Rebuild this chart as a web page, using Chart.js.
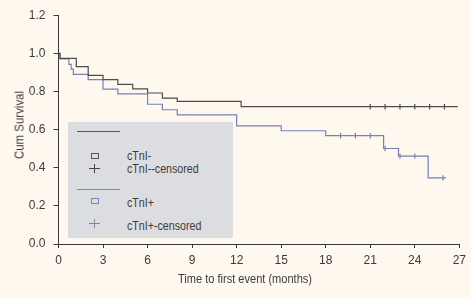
<!DOCTYPE html>
<html>
<head>
<meta charset="utf-8">
<script src="https://cdn.jsdelivr.net/npm/chart.js@4/dist/chart.umd.min.js"></script>
<style>
  html, body { margin: 0; padding: 0; background: #fef8ee; }
  #wrap { position: relative; width: 471px; height: 297px; overflow: hidden; }
  canvas { position: absolute; left: 0; top: 0; }
  .txt { position: absolute; font-family: "Liberation Sans", Arial, sans-serif; font-size: 13px; color: #3c3c3c; white-space: nowrap; line-height: 1; transform-origin: 0 50%; transform: scaleX(0.82); }
  .ctr { transform-origin: 50% 50%; }
  #legend { position: absolute; left: 68px; top: 122px; width: 165px; height: 116px; background: #dcdde0; }
  .lline { position: absolute; height: 1px; }
  .sq { position: absolute; width: 6px; height: 4px; border: 1px solid; }
  .ph { position: absolute; height: 1px; width: 11px; }
  .pv { position: absolute; width: 1px; height: 9px; }
</style>
</head>
<body>
<div id="wrap">
  <canvas id="c" width="471" height="297"></canvas>
  <div id="legend">
    <div class="lline" style="left:9px; top:9px; width:43px; background:#555;"></div>
    <div class="sq" style="left:23px; top:31px; border-color:#555;"></div>
    <div class="txt" style="left:59px; top:27px;">cTnI-</div>
    <div class="ph" style="left:21px; top:46px; background:#444;"></div>
    <div class="pv" style="left:26px; top:42px; background:#444;"></div>
    <div class="txt" style="left:59px; top:40px;">cTnI--censored</div>
    <div class="lline" style="left:9px; top:67px; width:43px; background:#7b86ba;"></div>
    <div class="sq" style="left:23px; top:76px; border-color:#7b86ba;"></div>
    <div class="txt" style="left:59px; top:74px;">cTnI+</div>
    <div class="ph" style="left:21px; top:101px; background:#7b86ba;"></div>
    <div class="pv" style="left:26px; top:97px; background:#7b86ba;"></div>
    <div class="txt" style="left:59px; top:97px;">cTnI+-censored</div>
  </div>
  <div class="txt ctr" style="left:244.5px; top:277.5px; transform: translate(-50%,-50%) scaleX(0.85);">Time to first event (months)</div>
  <div class="txt ctr" style="left:19px; top:124.5px; transform: translate(-50%,-50%) rotate(-90deg) scaleX(0.88);">Cum Survival</div>
</div>
<script>
// ---- Data ----
const xTicks = [0, 3, 6, 9, 12, 15, 18, 21, 24, 27];
const yTicks = [0.0, 0.2, 0.4, 0.6, 0.8, 1.0, 1.2];

// cTnI- Kaplan-Meier steps (time in months, cumulative survival)
const negTimes = [0, 0.1, 1.2, 2.0, 3.0, 4.0, 5.0, 6.0, 7.0, 8.0, 12.3, 26.9];
const negSurv  = [1.0, 0.974, 0.930, 0.884, 0.862, 0.837, 0.814, 0.792, 0.765, 0.748, 0.720, 0.720];
// cTnI- censored observations
const negCensTimes = [21, 22, 23, 24, 25, 26];
const negCensSurv  = [0.720, 0.720, 0.720, 0.720, 0.720, 0.720];

// cTnI+ Kaplan-Meier steps
const posTimes = [0, 0.1, 0.7, 0.85, 1.0, 2.0, 3.0, 4.0, 6.0, 7.0, 8.0, 12.0, 15.0, 18.0, 21.9, 22.9, 24.9, 26.1];
const posSurv  = [1.0, 0.971, 0.942, 0.917, 0.890, 0.862, 0.812, 0.787, 0.733, 0.704, 0.677, 0.620, 0.594, 0.568, 0.501, 0.461, 0.347, 0.347];
// cTnI+ censored observations
const posCensTimes = [19, 20, 21, 22, 23, 24, 25.9];
const posCensSurv  = [0.568, 0.568, 0.568, 0.501, 0.461, 0.461, 0.347];

const FONT = '"Liberation Sans", Arial, sans-serif';
const BLACK = '#4c4c4c';
const BLUE = '#7480b5';
const AXIS = '#3a3a3a';

const pts = (xs, ys) => xs.map((x, i) => ({ x: x, y: ys[i] }));

new Chart(document.getElementById('c'), {
  type: 'line',
  data: {
    datasets: [
      { data: pts(negTimes, negSurv), borderColor: BLACK, borderWidth: 1.2, stepped: 'before', pointRadius: 0, fill: false },
      { data: pts(posTimes, posSurv), borderColor: BLUE, borderWidth: 1.2, stepped: 'before', pointRadius: 0, fill: false },
      { data: pts(negCensTimes, negCensSurv), showLine: false, pointStyle: 'line', rotation: 90, pointRadius: 2.7, borderColor: BLACK, borderWidth: 1.2, pointHoverRadius: 2.7 },
      { data: pts(posCensTimes, posCensSurv), showLine: false, pointStyle: 'line', rotation: 90, pointRadius: 2.7, borderColor: BLUE, borderWidth: 1.2, pointHoverRadius: 2.7 }
    ]
  },
  options: {
    responsive: false,
    animation: false,
    events: [],
    layout: { padding: { top: 5, right: 10, left: 0, bottom: 0 } },
    plugins: { legend: { display: false }, tooltip: { enabled: false } },
    scales: {
      x: {
        type: 'linear', min: 0, max: 27,
        afterBuildTicks: s => { s.ticks = xTicks.map(v => ({ value: v })); },
        afterFit: s => { s.height = 53; },
        grid: { drawOnChartArea: false, drawTicks: true, tickLength: 4, color: AXIS },
        border: { color: AXIS, width: 1 },
        ticks: { color: '#3c3c3c', font: { family: FONT, size: 12 }, padding: 5, maxRotation: 0 }
      },
      y: {
        type: 'linear', min: 0, max: 1.2,
        afterBuildTicks: s => { s.ticks = yTicks.map(v => ({ value: v })); },
        afterFit: s => { s.width = 58.5; },
        grid: { drawOnChartArea: false, drawTicks: true, tickLength: 5, color: AXIS },
        border: { color: AXIS, width: 1 },
        ticks: { color: '#3c3c3c', font: { family: FONT, size: 12 }, padding: 8, callback: v => Number(v).toFixed(1) }
      }
    }
  }
});
</script>
</body>
</html>
